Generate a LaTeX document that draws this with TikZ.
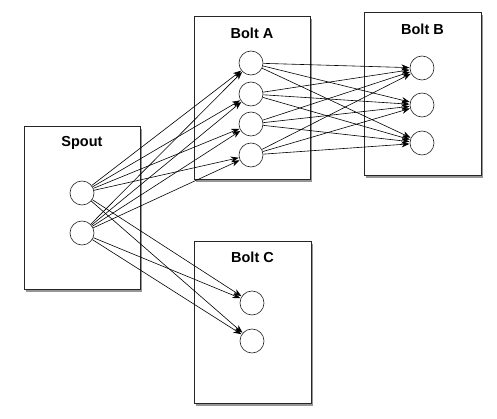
\documentclass[tikz,border=0pt]{standalone}
\usepackage{fontspec}
\setmainfont{Liberation Sans}
\usetikzlibrary{arrows.meta,shadows}
\tikzset{
  box/.style={draw=black!85, line width=1pt, fill=white, minimum width=116pt, minimum height=163pt, inner sep=0pt,
    drop shadow={shadow xshift=1.5pt, shadow yshift=-3pt, opacity=0.55, fill=black!75}},
  ttl/.style={font=\bfseries\fontsize{14.5}{16}\selectfont, inner sep=0pt},
  task/.style={circle, draw=black!85, line width=0.65pt, fill=white, minimum size=24pt, inner sep=0pt},
  flow/.style={draw=black, line width=0.6pt, -{Stealth[length=8pt,width=6pt]}, shorten >=0.3pt}
}
\begin{document}
\begin{tikzpicture}[x=1pt,y=-1pt]
\useasboundingbox (0,0) rectangle (497,418);
% boxes
\node[box] (spout) at (82,207.5) {};
\node[box] (boltA) at (252,97.5) {};
\node[box, minimum width=117pt] (boltB) at (422.5,93.5) {};
\node[box, minimum width=117pt, minimum height=162pt] (boltC) at (252.5,322) {};
% titles
\node[ttl] (tspout) at (82,143) {Spout};
\node[ttl] (tboltA) at (252,33) {Bolt A};
\node[ttl] (tboltB) at (422.5,29) {Bolt B};
\node[ttl] (tboltC) at (252.5,257) {Bolt C};
% task positions
\path
  (82,193) coordinate (ps1)
  (82,233) coordinate (ps2)
  (251,63) coordinate (pa1)
  (251,94) coordinate (pa2)
  (251,124) coordinate (pa3)
  (251,155) coordinate (pa4)
  (422,68) coordinate (pb1)
  (422,105) coordinate (pb2)
  (422,143) coordinate (pb3)
  (252,303) coordinate (pc1)
  (252,341) coordinate (pc2);
\foreach \n in {s1,s2,a1,a2,a3,a4,b1,b2,b3,c1,c2} {
  \node[task, fill=none, draw=none] (\n) at (p\n) {};
}
% arrows
\foreach \s in {s1,s2} {
  \foreach \t in {a1,a2,a3,a4,c1,c2} {
    \draw[flow] (\s) -- (\t);
  }
}
\foreach \s in {a1,a2,a3,a4} {
  \foreach \t in {b1,b2,b3} {
    \draw[flow] (\s) -- (\t);
  }
}
% circles on top
\foreach \n in {s1,s2,a1,a2,a3,a4,b1,b2,b3,c1,c2} {
  \node[task] (k\n) at (\n) {};
}
\end{tikzpicture}
\end{document}
